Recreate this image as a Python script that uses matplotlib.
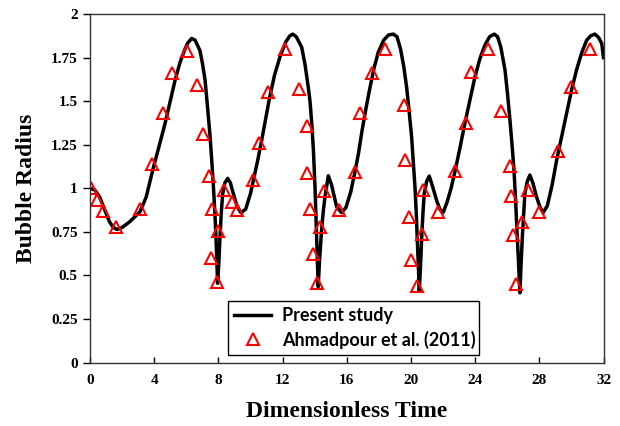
import matplotlib
matplotlib.use('Agg')
import matplotlib.pyplot as plt

# present study curve
t_curve = [0.0, 0.3, 0.6, 0.9, 1.2, 1.45, 1.68, 2.0, 2.5, 3.12, 3.5, 3.95, 4.3, 4.67, 5.0, 5.3,
           5.6, 5.92, 6.1, 6.33, 6.55, 6.85, 7.0, 7.17, 7.3, 7.48, 7.6, 7.69, 7.78, 7.85, 7.91, 7.95,
           8.02, 8.1, 8.18, 8.27, 8.4, 8.58, 8.75, 8.93, 9.15, 9.4,
           9.7, 10.0, 10.18, 10.45, 10.7, 10.95, 11.2, 11.5, 11.84, 12.2, 12.45, 12.63, 12.85, 13.19,
           13.4, 13.6, 13.71, 13.82, 13.92, 14.02, 14.1, 14.17, 14.22,
           14.3, 14.43, 14.54, 14.64, 14.85, 15.05, 15.37, 15.68,
           15.95, 16.25, 16.51, 16.73, 16.95, 17.2, 17.45, 17.7, 17.96, 18.3, 18.6, 18.9, 19.13, 19.35,
           19.55, 19.73, 19.9, 20.04, 20.15, 20.25, 20.33, 20.39, 20.46, 20.52,
           20.6, 20.67, 20.75, 20.83, 20.98, 21.14, 21.35, 21.6, 21.8, 22.0,
           22.25, 22.5, 22.74, 23.05, 23.36, 23.68, 23.99, 24.3, 24.61, 24.9, 25.19, 25.4, 25.6,
           25.86, 26.02, 26.17, 26.3, 26.42, 26.5, 26.58, 26.66, 26.73, 26.79,
           26.86, 26.94, 27.02, 27.1, 27.25, 27.41, 27.6, 27.83, 28.05, 28.24,
           28.5, 28.8, 29.08, 29.4, 29.7, 30.0, 30.32, 30.65, 30.95, 31.2, 31.46, 31.7, 31.89, 32.0]
r_curve = [1.0, 0.99, 0.95, 0.88, 0.81, 0.775, 0.764, 0.775, 0.81, 0.866, 0.95, 1.12, 1.24, 1.37, 1.5, 1.62,
           1.72, 1.8, 1.835, 1.86, 1.85, 1.79, 1.72, 1.62, 1.49, 1.3, 1.14, 1.01, 0.86, 0.72, 0.57, 0.455,
           0.56, 0.72, 0.86, 0.97, 1.03, 1.057, 1.03, 0.97, 0.9, 0.86,
           0.88, 0.97, 1.047, 1.16, 1.277, 1.4, 1.525, 1.65, 1.755, 1.84, 1.875, 1.885, 1.87, 1.81,
           1.71, 1.58, 1.5, 1.37, 1.22, 1.01, 0.78, 0.58, 0.435,
           0.58, 0.76, 0.87, 0.95, 1.072, 1.02, 0.894, 0.86,
           0.89, 0.98, 1.095, 1.2, 1.33, 1.46, 1.58, 1.69, 1.78, 1.85, 1.88, 1.885, 1.87, 1.8,
           1.7, 1.58, 1.43, 1.296, 1.15, 1.009, 0.86, 0.72, 0.56, 0.41,
           0.56, 0.72, 0.86, 0.97, 1.04, 1.07, 1.01, 0.93, 0.88, 0.86,
           0.92, 1.0, 1.095, 1.23, 1.373, 1.51, 1.64, 1.745, 1.822, 1.87, 1.885, 1.87, 1.81,
           1.68, 1.54, 1.39, 1.25, 1.105, 0.97, 0.818, 0.66, 0.52, 0.4,
           0.56, 0.72, 0.85, 0.97, 1.04, 1.076, 1.03, 0.95, 0.89, 0.86,
           0.9, 1.02, 1.162, 1.3, 1.43, 1.56, 1.68, 1.78, 1.85, 1.875, 1.885, 1.865, 1.83, 1.75]

# Ahmadpour et al. (2011) points
t_ref = [0.05, 0.46, 0.81, 1.6, 3.12, 3.88, 4.57, 5.13, 6.02, 6.69, 7.02, 7.42, 7.6, 7.54, 7.91,
         8.0, 8.37, 8.83, 9.16, 10.15, 10.55, 11.07, 12.18, 13.04, 13.54, 13.5, 13.71, 13.92,
         14.12, 14.33, 14.58, 15.51, 16.51, 16.84, 17.55, 18.4, 19.56, 19.63, 19.9, 19.98, 20.35,
         20.7, 20.77, 21.7, 22.72, 23.41, 23.74, 24.78, 25.63, 26.17, 26.25, 26.33, 26.54, 26.9,
         27.29, 27.95, 29.18, 29.97, 31.15]
r_ref = [1.0, 0.93, 0.87, 0.78, 0.88, 1.14, 1.43, 1.66, 1.79, 1.59, 1.31, 1.07, 0.88, 0.6, 0.46,
         0.756, 0.99, 0.92, 0.875, 1.05, 1.26, 1.553, 1.8, 1.57, 1.355, 1.09, 0.88, 0.623,
         0.454, 0.776, 0.986, 0.875, 1.095, 1.43, 1.663, 1.8, 1.478, 1.162, 0.835, 0.59, 0.44,
         0.736, 0.99, 0.866, 1.1, 1.373, 1.669, 1.8, 1.445, 1.13, 0.955, 0.73, 0.45, 0.808,
         0.99, 0.865, 1.214, 1.583, 1.8]

x_ticks = [0, 4, 8, 12, 16, 20, 24, 28, 32]
y_ticks = [0, 0.25, 0.5, 0.75, 1, 1.25, 1.5, 1.75, 2]
y_labels = ['0', '0.25', '0.5', '0.75', '1', '1.25', '1.5', '1.75', '2']

fig = plt.figure(figsize=(6.2, 4.26), dpi=100)
ax = fig.add_axes([0.1452, 0.149, 0.8282, 0.818])

ax.plot(t_curve, r_curve, color='black', lw=2.5, label='Present study')
ax.plot(t_ref, r_ref, linestyle='none', marker='^', ms=8.5, mfc='none', mec='red',
        mew=1.5, label='Ahmadpour et al. (2011)')

ax.set_xlim(0, 32)
ax.set_ylim(0, 2)
ax.set_xticks(x_ticks)
ax.set_yticks(y_ticks)
ax.set_yticklabels(y_labels)

for lab in ax.get_xticklabels() + ax.get_yticklabels():
    lab.set_fontfamily('Liberation Serif')
    lab.set_fontweight('bold')
    lab.set_fontsize(11)
ax.tick_params(axis='x', direction='in', length=4, width=1, pad=8)
ax.tick_params(axis='y', direction='out', length=5, width=1, pad=4)
for s in ax.spines.values():
    s.set_linewidth(1.0)
    s.set_color('#333333')

ax.set_xlabel('Dimensionless Time', fontfamily='Liberation Serif', fontweight='bold',
              fontsize=17, labelpad=10)
ax.set_ylabel('Bubble Radius', fontfamily='Liberation Serif', fontweight='bold',
              fontsize=17, labelpad=10)

leg = ax.legend(loc='lower left', bbox_to_anchor=(0.269, 0.0215, 0.488, 0.16), mode='expand',
                prop={'family': 'Lato', 'weight': 'bold', 'size': 13},
                fancybox=False, edgecolor='black', framealpha=1, borderpad=0.35,
                labelspacing=0.35, handlelength=2.0, handletextpad=0.65, borderaxespad=0)
leg.get_frame().set_linewidth(1.0)

fig.savefig('out.png', dpi=100)
